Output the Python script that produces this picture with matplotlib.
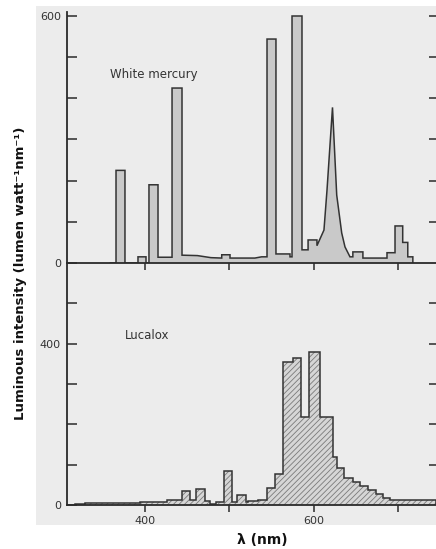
import matplotlib
matplotlib.use("Agg")
import matplotlib.pyplot as plt
from matplotlib.patches import Rectangle

plt.rcParams['font.family'] = ['DejaVu Sans']
plt.rcParams['hatch.linewidth'] = 0.6

# ---- data: White mercury spectrum outline (wavelength nm, luminous intensity)
wm_nm = [359, 365.7, 365.7, 376.3, 376.3, 391.7, 391.7, 401.2, 401.2, 404.7, 404.7, 415.4,
         415.4, 432, 432, 443.8, 443.8, 462, 478, 490.8, 490.8, 500.6, 500.6, 530, 538, 544.4,
         544.4, 555, 555, 571.6, 571.6, 574, 574, 585.8, 585.8, 593, 593, 603.5, 603.5,
         611.8, 615.4, 621.9, 626.9, 632.8, 636.7, 642.6, 646, 646, 657.9, 657.9, 686.4,
         686.4, 695.9, 695.9, 705, 705, 711, 711, 717, 717]
wm_val = [0, 0, 225, 225, 0, 0, 15, 15, 0, 0, 190, 190,
          14, 14, 425, 425, 19, 18, 13, 12, 20, 20, 12, 12, 15, 15,
          544, 544, 22, 22, 15, 15, 600, 600, 32, 32, 56, 56, 42,
          80, 177, 378, 165, 73, 39, 15, 15, 27, 27, 12, 12,
          25, 25, 90, 90, 50, 50, 15, 15, 0]

# ---- data: Lucalox spectrum (bin edges nm, luminous intensity per bin)
luc_edges = [317, 329, 394, 426, 444, 453, 460, 471, 477, 484, 493.5, 503, 509, 519.5, 522,
             534, 544.5, 554, 563.5, 575, 584.5, 594, 607, 622, 627, 636, 646, 655, 664,
             673, 682, 690, 744]
luc_vals = [2, 4, 8, 12, 35, 12, 40, 10, 2, 8, 85, 8, 25, 8, 10, 12, 42, 77, 355, 365,
            218, 380, 218, 119, 92, 68, 57, 47, 37, 27, 18, 12]

x_ticks = [400, 500, 600, 700]
top_yticks = [0, 100, 200, 300, 400, 500, 600]
top_ylabels = ['0', '', '', '', '', '', '600']
bot_yticks = [0, 100, 200, 300, 400, 500]
bot_ylabels = ['0', '', '', '', '400', '']
bot_xlabels = ['400', '', '600', '']

W, H = 436, 549
fig = plt.figure(figsize=(W / 100, H / 100), dpi=100)
fig.patch.set_facecolor('white')
fig.patches.append(Rectangle((36 / W, (H - 525) / H), 400 / W, (525 - 6) / H,
                             transform=fig.transFigure, facecolor='#ececec',
                             edgecolor='none', zorder=-10))

ink = '#2a2a2a'
xl = (307.1, 744.4)
left = 66.5 / W
width = (W - 66.5) / W

ax_top = fig.add_axes([left, (H - 263) / H, width, 251 / H])
ax_bot = fig.add_axes([left, (H - 505) / H, width, 242 / H])

for ax in (ax_top, ax_bot):
    ax.set_facecolor('none')
    ax.set_xlim(*xl)
    for s in ('top', 'right'):
        ax.spines[s].set_visible(False)
    for s in ('left', 'bottom'):
        ax.spines[s].set_linewidth(1.3)
        ax.spines[s].set_color(ink)
    ax.set_xticks(x_ticks)
    ax.tick_params(axis='x', direction='out', length=5, width=1.1, color=ink,
                   labelsize=8, labelcolor='#333333', pad=3)
    ax.tick_params(axis='y', direction='in', length=7.5, width=1.1, color=ink,
                   labelsize=8, labelcolor='#333333', pad=4)

# top panel
ax_top.set_ylim(0, 609.7)
ax_top.fill_between(wm_nm, wm_val, 0, facecolor='#c9c9c9', linewidth=0)
ax_top.plot(wm_nm, wm_val, color='#333333', lw=1.1, solid_joinstyle='miter')
ax_top.set_yticks(top_yticks, labels=top_ylabels)
ax_top.tick_params(axis='x', labelbottom=False)
ax_top.text(358.6, 457, 'White mercury', fontsize=8.5, va='center', color='#333333')

# bottom panel
ax_bot.set_ylim(0, 600)
ax_bot.stairs(luc_vals, luc_edges, baseline=0, fill=True, facecolor='#d6d6d6',
              edgecolor='#7a7a7a', hatch='//////', linewidth=0)
ax_bot.stairs(luc_vals, luc_edges, baseline=0, fill=False, color='#333333', lw=1.1)
ax_bot.set_yticks(bot_yticks, labels=bot_ylabels)
ax_bot.set_xticks(x_ticks, labels=bot_xlabels)
ax_bot.text(376, 421, 'Lucalox', fontsize=8.5, va='center', color='#333333')

# right-side inward ticks
for ax, ticks in ((ax_top, top_yticks[1:]), (ax_bot, bot_yticks[1:])):
    axr = ax.twinx()
    axr.set_ylim(ax.get_ylim())
    axr.set_facecolor('none')
    for s in axr.spines.values():
        s.set_visible(False)
    axr.set_yticks(ticks)
    axr.tick_params(axis='y', direction='in', length=5, width=1.1, color=ink,
                    labelright=False)

fig.text(21 / W, 1 - 273 / H, 'Luminous intensity (lumen watt⁻¹nm⁻¹)', rotation=90,
         ha='center', va='center', fontsize=9.5, fontweight='bold', color='#111111')
fig.text(262 / W, 1 - 540 / H, 'λ (nm)', ha='center', va='center', fontsize=10,
         fontweight='bold', color='#111111')

fig.savefig('out.png', dpi=100)
